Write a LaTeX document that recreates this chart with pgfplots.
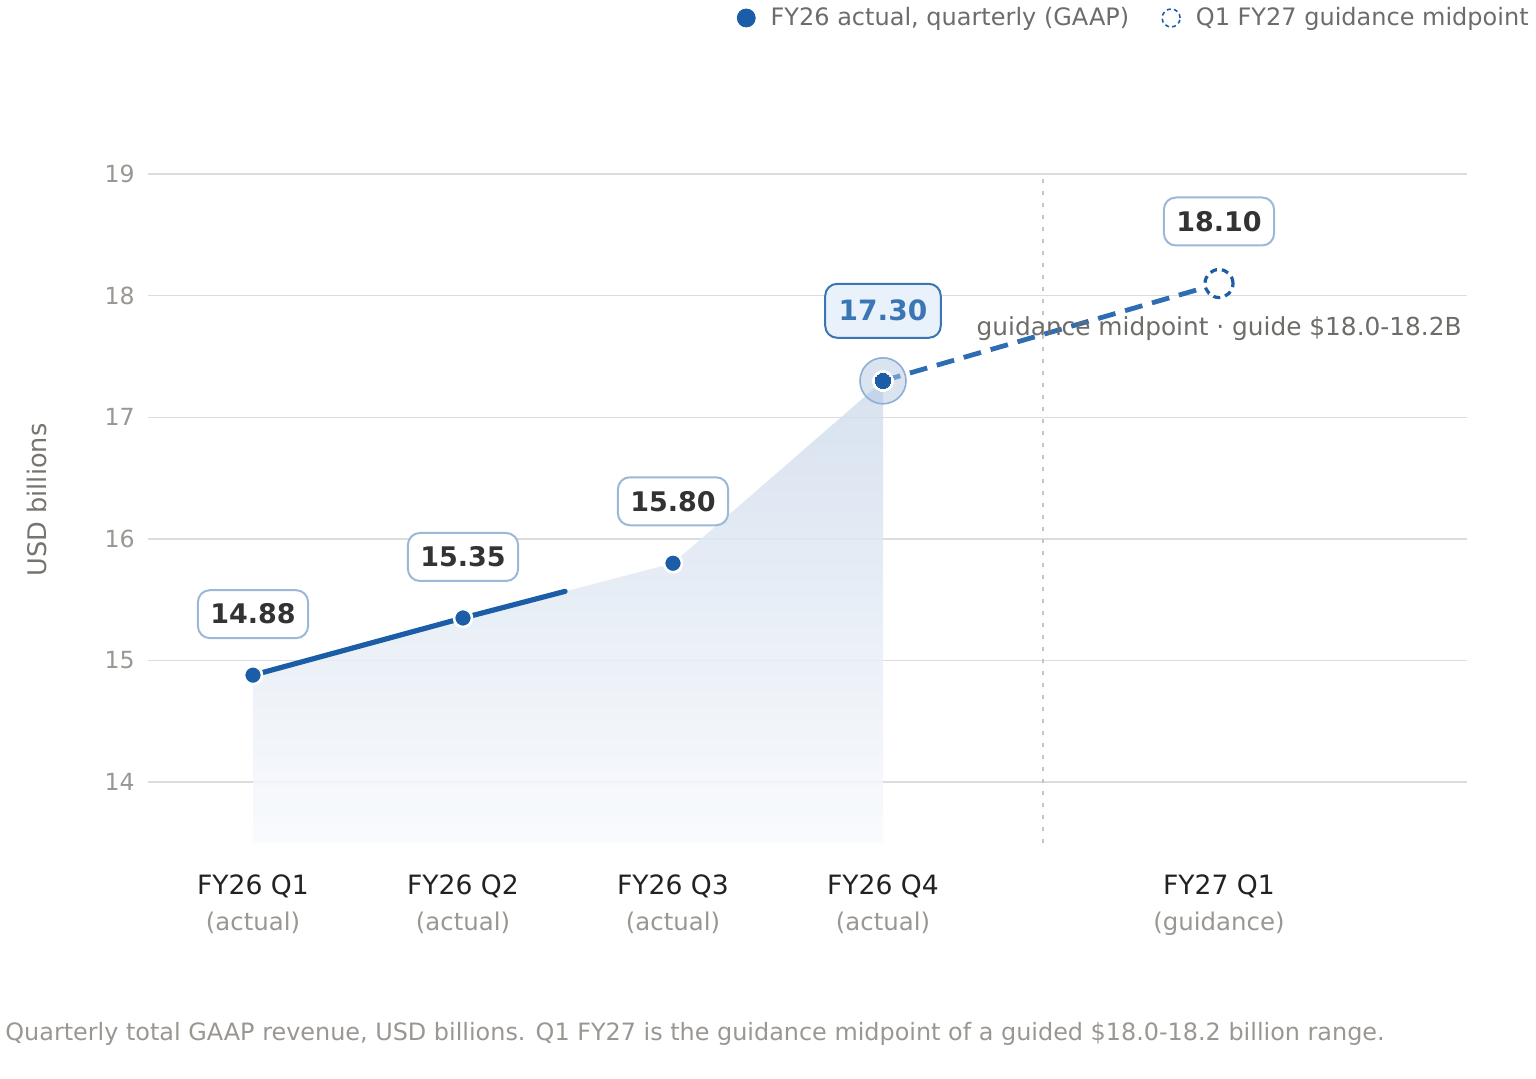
\documentclass[border=0pt]{standalone}
\usepackage{pgfplots}
\pgfplotsset{compat=1.18}
\usepackage{fontspec}
\setmainfont{DejaVu Sans}
\definecolor{mainblue}{HTML}{1B5EA7}
\definecolor{dashblue}{HTML}{2E6DB2}
\definecolor{gridc}{HTML}{DCDCDC}
\definecolor{tickc}{HTML}{9A9792}
\definecolor{legc}{HTML}{6E6C69}
\definecolor{ylabc}{HTML}{77746F}
\definecolor{boxb}{HTML}{9BB8D8}
\definecolor{boxtxt}{HTML}{333333}
\definecolor{hlb}{HTML}{3B76B4}
\definecolor{hlfill}{HTML}{E9F1FB}
\definecolor{halofill}{HTML}{B3C9E2}
\definecolor{halob}{HTML}{8EAED3}
\definecolor{areatop}{HTML}{D0DDEC}
\definecolor{areabot}{HTML}{F8FAFD}
\definecolor{sepc}{HTML}{C4C4C4}
\definecolor{xlabc}{HTML}{222222}
\begin{document}
\begin{tikzpicture}
\useasboundingbox (0,0) rectangle (768pt,539pt);
\begin{axis}[
  at={(74pt,117.5pt)}, anchor=south west,
  scale only axis, width=659.5pt, height=364.9pt,
  xmin=-0.5, xmax=5.781, ymin=13.5, ymax=19.5,
  axis line style={draw=none},
  major tick length=0pt,
  ytick={14,15,16,17,18,19},
  ymajorgrids, grid style={gridc, line width=0.75pt},
  /pgf/number format/assume math mode=true,
  yticklabel style={font=\fontsize{11.8}{14}\selectfont, text=tickc, anchor=east, inner sep=0pt, xshift=-6.5pt},
  xtick={0,1,2,3,4.6},
  xticklabels={
    {FY26 Q1\\{\fontsize{12.2}{18}\selectfont\color{tickc}(actual)}},
    {FY26 Q2\\{\fontsize{12.2}{18}\selectfont\color{tickc}(actual)}},
    {FY26 Q3\\{\fontsize{12.2}{18}\selectfont\color{tickc}(actual)}},
    {FY26 Q4\\{\fontsize{12.2}{18}\selectfont\color{tickc}(actual)}},
    {FY27 Q1\\{\fontsize{12.2}{18}\selectfont\color{tickc}(guidance)}}},
  xticklabel style={align=center, anchor=north, inner sep=0pt, yshift=-15.5pt, font=\fontsize{13.3}{18}\selectfont, text=xlabc},
  clip=false,
  legend image code/.code={\draw[#1] (4.5pt,0pt) circle (4.5pt); \path (14.5pt,0pt);},
  legend style={draw=none, fill=none, at={(rel axis cs:1.0501,1.1305)}, anchor=east,
    legend columns=2, font=\fontsize{12}{14}\selectfont, text=legc, inner sep=0pt,
    /tikz/every even column/.append style={column sep=14pt}},
  legend cell align=left,
]
\addlegendimage{draw=mainblue, fill=mainblue}
\addlegendentry{FY26 actual, quarterly (GAAP)}
\addlegendimage{draw=mainblue, fill=white, line width=0.8pt, dash pattern=on 2pt off 1.6pt}
\addlegendentry{Q1 FY27 guidance midpoint}

% shaded area under actuals
\addplot[forget plot, draw=none, top color=areatop, bottom color=areabot, fill opacity=0.85]
  coordinates {(0,13.5)(0,14.88)(1,15.35)(2,15.80)(3,17.30)(3,13.5)};
% separator between actuals and guidance
\addplot[forget plot, sepc, line width=1pt, dash pattern=on 2pt off 4pt]
  coordinates {(3.76,13.5)(3.76,19)};
% solid actual line (drawn partially, as in the reference)
\addplot[forget plot, mainblue, line width=2.6pt, line cap=round]
  coordinates {(0,14.88)(1,15.35)(1.486,15.569)};
% dashed guidance line
\addplot[forget plot, dashblue, line width=2.4pt, dash pattern=on 9pt off 5pt]
  coordinates {(3,17.30)(4.6,18.10)};
% halo on latest quarter
\addplot[forget plot, only marks, mark=*, mark size=11.5pt, mark options={fill=halofill, fill opacity=0.5, draw=halob, line width=0.8pt}]
  coordinates {(3,17.30)};
\addplot[forget plot, only marks, mark=*, mark size=5.3pt, mark options={fill=white, draw=white, line width=0pt}]
  coordinates {(3,17.30)};
\addplot[forget plot, only marks, mark=*, mark size=3.8pt, mark options={fill=mainblue, draw=mainblue, line width=0pt}]
  coordinates {(3,17.30)};
% actual points
\addplot[forget plot, only marks, mark=*, mark size=4.5pt, mark options={fill=mainblue, draw=white, line width=1.3pt}]
  coordinates {(0,14.88)(1,15.35)(2,15.80)};
% guidance point
\addplot[forget plot, only marks, mark=*, mark size=7pt, mark options={fill=white, draw=mainblue, line width=1.6pt, dash pattern=on 3.5pt off 2.5pt}]
  coordinates {(4.6,18.10)};

% value labels
\tikzset{lbl/.style={draw=boxb, line width=1pt, fill=white, rounded corners=6pt, text=boxtxt,
  font=\fontsize{13.5}{15}\selectfont\bfseries, inner xsep=6.2pt, minimum height=24pt}}
\node[lbl, yshift=30.5pt] at (axis cs:0,14.88) {14.88};
\node[lbl, yshift=30.5pt] at (axis cs:1,15.35) {15.35};
\node[lbl, yshift=31pt] at (axis cs:2,15.80) {15.80};
\node[lbl, yshift=31pt] at (axis cs:4.6,18.10) {18.10};
\node[lbl, draw=hlb, fill=hlfill, text=hlb, font=\fontsize{14}{16}\selectfont\bfseries, inner xsep=6.75pt, minimum height=27pt, yshift=35pt] at (axis cs:3,17.30) {17.30};

\node[anchor=east, text=legc, font=\fontsize{12.4}{14}\selectfont, inner sep=0pt] at (axis cs:5.757,17.725) {guidance midpoint · guide \$18.0-18.2B};
\end{axis}
\node[rotate=90, text=ylabc, font=\fontsize{12.8}{15}\selectfont, inner sep=0pt] at (18.5pt,289pt) {USD billions};
\node[anchor=west, text=tickc, font=\fontsize{11.95}{14}\selectfont, inner sep=0pt] at (2.5pt,22pt) {Quarterly total GAAP revenue, USD billions. Q1 FY27 is the guidance midpoint of a guided \$18.0-18.2 billion range.};
\end{tikzpicture}
\end{document}
